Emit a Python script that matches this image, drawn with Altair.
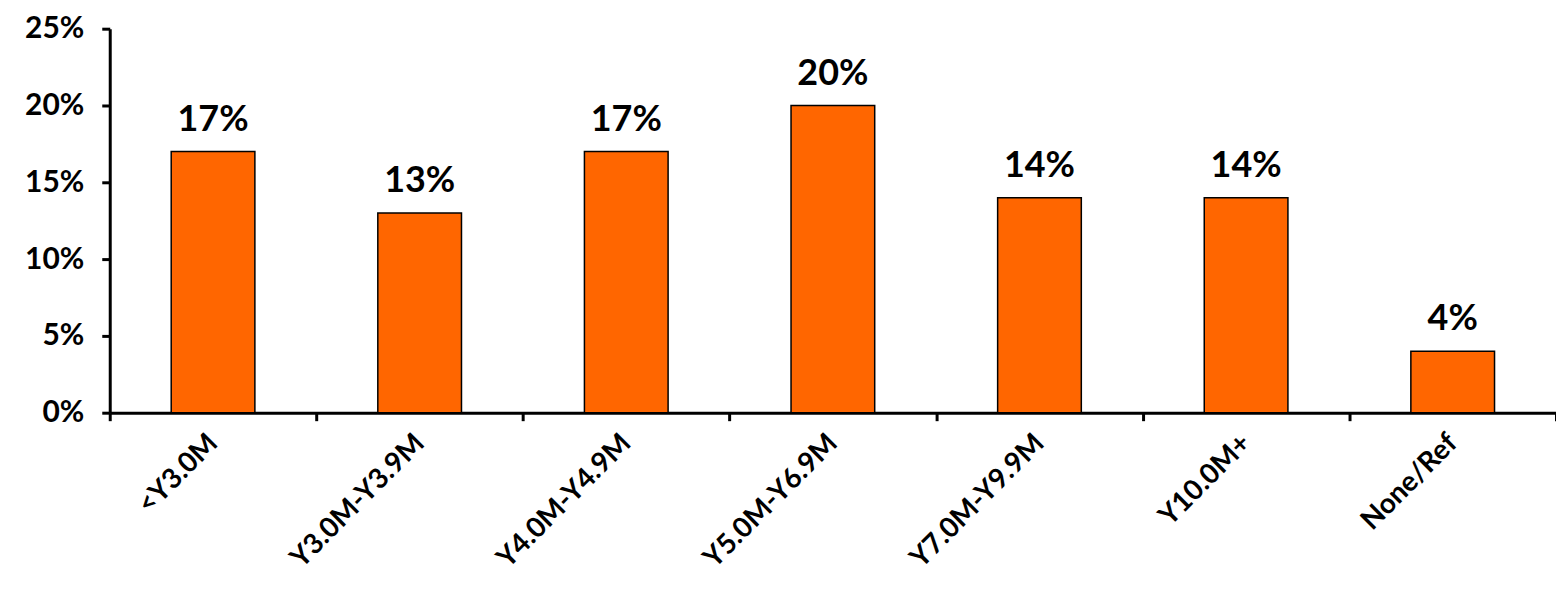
import altair as alt
import pandas as pd

categories = ["<Y3.0M", "Y3.0M-Y3.9M", "Y4.0M-Y4.9M", "Y5.0M-Y6.9M", "Y7.0M-Y9.9M", "Y10.0M+", "None/Ref"]
values = [0.17, 0.13, 0.17, 0.20, 0.14, 0.14, 0.04]

df = pd.DataFrame({"cat": categories, "val": values})
FONT = "Lato"

x = alt.X("cat:N", sort=categories, title=None,
          scale=alt.Scale(paddingInner=0, paddingOuter=0),
          axis=alt.Axis(labelAngle=-45, labelAlign="right", labelBaseline="middle",
                        labelFont=FONT, labelFontSize=28, labelFontWeight="bold", labelColor="black",
                        labelPadding=18, labelLimit=500, tickBand="extent", tickSize=8, tickWidth=3,
                        tickColor="black", domainWidth=3, domainColor="black", grid=False))
y = alt.Y("val:Q", title=None,
          scale=alt.Scale(domain=[0, 0.25], nice=False),
          axis=alt.Axis(values=[0, 0.05, 0.10, 0.15, 0.20, 0.25], format=".0%",
                        labelFont=FONT, labelFontSize=30, labelFontWeight="bold", labelColor="black",
                        labelPadding=18, tickSize=8, tickWidth=3, tickColor="black",
                        domainWidth=3, domainColor="black", grid=False))

bars = alt.Chart(df).mark_bar(color="#FF6600", stroke="black", strokeWidth=1.5,
                              width=alt.RelativeBandSize(0.405)).encode(x=x, y=y)
labels = alt.Chart(df).mark_text(font=FONT, fontSize=36, fontWeight="bold", color="black",
                                 baseline="alphabetic", dy=-21).encode(
    x=alt.X("cat:N", sort=categories), y="val:Q", text=alt.Text("val:Q", format=".0%"))

chart = (bars + labels).properties(
    width=1450, height=385,
    autosize=alt.AutoSizeParams(type="none"),
    padding={"left": 102, "top": 20, "right": 0, "bottom": 170},
).configure_view(stroke=None)

chart.save("out.html", embed_options={"renderer": "svg", "actions": False})
